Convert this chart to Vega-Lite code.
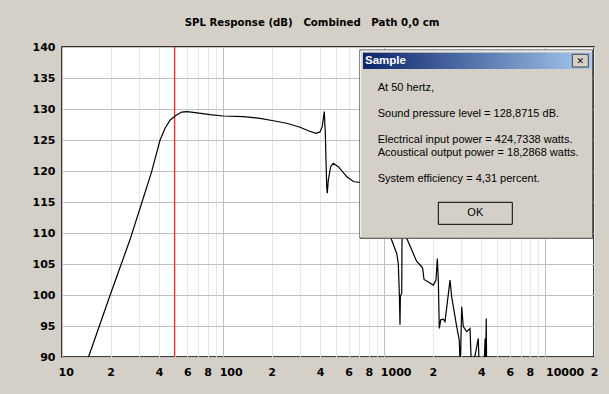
{
  "$schema": "https://vega.github.io/schema/vega-lite/v6.json",
  "autosize": "none",
  "width": 532,
  "height": 310,
  "padding": {"left": 62, "top": 47, "right": 15, "bottom": 37},
  "background": "#D4D0C8",
  "title": {
    "text": "SPL Response (dB)\u00a0\u00a0\u00a0Combined\u00a0\u00a0\u00a0Path 0,0 cm",
    "font": "DejaVu Sans",
    "fontSize": 10.2,
    "fontWeight": "bold",
    "color": "#000000",
    "anchor": "middle",
    "dx": -16,
    "offset": 5,
    "baseline": "alphabetic"
  },
  "config": {
    "view": {"fill": "white", "stroke": "#000000", "strokeWidth": 1.5},
    "axis": {
      "labelFont": "DejaVu Sans",
      "labelFontSize": 11,
      "labelFontWeight": "bold",
      "labelColor": "#000000",
      "ticks": false,
      "domain": false,
      "title": null
    }
  },
  "encoding": {
    "x": {
      "field": "f", "type": "quantitative",
      "scale": {"type": "log", "domain": [10, 20000], "nice": false},
      "axis": {
        "values": [10,20,30,40,50,60,70,80,90,100,200,300,400,500,600,700,800,900,1000,2000,3000,4000,5000,6000,7000,8000,9000,10000,20000],
        "grid": true,
        "gridColor": {"condition": {"test": "indexof([10,100,1000,10000], datum.value) >= 0", "value": "#c0c0c0"}, "value": "#e6e6e6"},
        "gridWidth": 1,
        "labelPadding": 9,
        "labelOverlap": false,
        "labelBound": false,
        "labelFlush": false,
        "labelAlign": {"condition": {"test": "indexof([10,100,1000,10000], datum.value) >= 0", "value": "left"}, "value": "center"},
        "labelOffset": {"condition": {"test": "indexof([10,100,1000], datum.value) >= 0", "value": -4}, "value": 0},
        "labelExpr": "indexof([10,100,1000,10000], datum.value) >= 0 ? format(datum.value, 'd') : (indexof([20,40,60,80,200,400,600,800,2000,4000,6000,8000,20000], datum.value) >= 0 ? format(datum.value / pow(10, floor(log(datum.value)/LN10)), 'd') : '')"
      }
    },
    "y": {
      "field": "db", "type": "quantitative",
      "scale": {"domain": [90, 140], "nice": false, "zero": false},
      "axis": {
        "values": [90,95,100,105,110,115,120,125,130,135,140],
        "grid": true,
        "gridColor": "#c0c0c0",
        "labelPadding": 7
      }
    }
  },
  "layer": [
    {
      "data": {"values": [{"f": 50, "db": 90, "db2": 140}]},
      "mark": {"type": "rule", "color": "#ff0000", "strokeWidth": 1},
      "encoding": {"y2": {"field": "db2"}}
    },
    {
      "data": {"values": [
        {"f": 10, "db": 77.5},
        {"f": 14.7, "db": 90.2},
        {"f": 19.9, "db": 100.0},
        {"f": 26.4, "db": 108.9},
        {"f": 31.2, "db": 114.8},
        {"f": 36.0, "db": 119.9},
        {"f": 40.6, "db": 125.0},
        {"f": 43.6, "db": 126.9},
        {"f": 46.8, "db": 128.2},
        {"f": 50.5, "db": 128.9},
        {"f": 55.3, "db": 129.5},
        {"f": 59.4, "db": 129.57},
        {"f": 65.3, "db": 129.47},
        {"f": 82.8, "db": 129.1},
        {"f": 100, "db": 128.87},
        {"f": 133.4, "db": 128.76},
        {"f": 169.3, "db": 128.5},
        {"f": 204.8, "db": 128.1},
        {"f": 247.7, "db": 127.7},
        {"f": 300, "db": 127.05},
        {"f": 337.6, "db": 126.5},
        {"f": 376.5, "db": 126.08},
        {"f": 399, "db": 126.3},
        {"f": 412, "db": 127.15},
        {"f": 424, "db": 129.6},
        {"f": 430.5, "db": 126.1},
        {"f": 434.6, "db": 121.8},
        {"f": 439, "db": 117.5},
        {"f": 442.6, "db": 116.4},
        {"f": 449, "db": 118.5},
        {"f": 464.6, "db": 120.7},
        {"f": 482, "db": 121.24},
        {"f": 518, "db": 120.7},
        {"f": 584, "db": 119.1},
        {"f": 642, "db": 118.3},
        {"f": 706, "db": 118.15},
        {"f": 800, "db": 117.3},
        {"f": 900, "db": 115.5},
        {"f": 1000, "db": 112.5},
        {"f": 1100, "db": 109.15},
        {"f": 1194, "db": 106.7},
        {"f": 1221, "db": 105.1},
        {"f": 1239, "db": 100.3},
        {"f": 1251, "db": 95.2},
        {"f": 1258, "db": 99.8},
        {"f": 1282, "db": 100.3},
        {"f": 1290, "db": 112},
        {"f": 1330, "db": 111},
        {"f": 1377, "db": 109.15},
        {"f": 1588, "db": 105.4},
        {"f": 1706, "db": 104.56},
        {"f": 1730, "db": 104.3},
        {"f": 1763, "db": 102.5},
        {"f": 1875, "db": 102.1},
        {"f": 2014, "db": 101.6},
        {"f": 2093, "db": 102.4},
        {"f": 2132, "db": 105.9},
        {"f": 2163, "db": 102.4},
        {"f": 2193, "db": 94.6},
        {"f": 2238, "db": 96.0},
        {"f": 2323, "db": 96.1},
        {"f": 2380, "db": 95.7},
        {"f": 2556, "db": 102.4},
        {"f": 2618, "db": 99.7},
        {"f": 2812, "db": 94.9},
        {"f": 2918, "db": 92.7},
        {"f": 2960, "db": 88},
        {"f": 3020, "db": 98.1},
        {"f": 3090, "db": 94.9},
        {"f": 3243, "db": 94.1},
        {"f": 3402, "db": 94.6},
        {"f": 3470, "db": 88.5},
        {"f": 3653, "db": 90.2},
        {"f": 3828, "db": 93.0},
        {"f": 3882, "db": 88},
        {"f": 4150, "db": 88},
        {"f": 4220, "db": 93},
        {"f": 4250, "db": 88},
        {"f": 4290, "db": 96.2},
        {"f": 4320, "db": 86},
        {"f": 6000, "db": 80},
        {"f": 20000, "db": 60}
      ]},
      "mark": {"type": "line", "color": "#000000", "strokeWidth": 1.2, "clip": true, "interpolate": "linear"}
    },
    {
      "data": {"values": [{"f": 706, "f2": 19630, "db": 109.15, "db2": 139.52}]},
      "mark": {"type": "rect", "fill": "#D4D0C8", "stroke": "#404040", "strokeWidth": 1},
      "encoding": {"x2": {"field": "f2"}, "y2": {"field": "db2"}}
    },
    {
      "data": {"values": [{"f": 713, "f2": 19400, "db": 139.36}]},
      "mark": {"type": "rule", "color": "#ffffff", "strokeWidth": 1},
      "encoding": {"x2": {"field": "f2"}}
    },
    {
      "data": {"values": [{"f": 713, "db": 109.35, "db2": 139.36}]},
      "mark": {"type": "rule", "color": "#ffffff", "strokeWidth": 1},
      "encoding": {"y2": {"field": "db2"}}
    },
    {
      "data": {"values": [{"f": 737.5, "f2": 19360, "db": 136.45, "db2": 139.08}]},
      "mark": {
        "type": "rect",
        "fill": {"gradient": "linear", "x1": 0, "y1": 0, "x2": 1, "y2": 0, "stops": [{"offset": 0, "color": "#0A246A"}, {"offset": 1, "color": "#A6CAF0"}]}
      },
      "encoding": {"x2": {"field": "f2"}, "y2": {"field": "db2"}}
    },
    {
      "data": {"values": [{"f": 759, "db": 137.74, "t": "Sample"}]},
      "mark": {"type": "text", "align": "left", "baseline": "middle", "font": "Liberation Sans", "fontSize": 11.5, "fontWeight": "bold", "color": "#ffffff"},
      "encoding": {"text": {"field": "t"}}
    },
    {
      "data": {"values": [{"f": 14670, "f2": 18440, "db": 136.77, "db2": 138.82}]},
      "mark": {"type": "rect", "fill": "#D4D0C8", "stroke": "#404040", "strokeWidth": 1},
      "encoding": {"x2": {"field": "f2"}, "y2": {"field": "db2"}}
    },
    {
      "data": {"values": [{"f": 16440, "db": 137.8, "t": "✕"}]},
      "mark": {"type": "text", "align": "center", "baseline": "middle", "font": "DejaVu Sans", "fontSize": 9, "fontWeight": "bold", "color": "#000000"},
      "encoding": {"text": {"field": "t"}}
    },
    {
      "data": {"values": [
        {"f": 910, "db": 133.34, "t": "At 50 hertz,"},
        {"f": 910, "db": 129.15, "t": "Sound pressure level = 128,8715 dB."},
        {"f": 910, "db": 124.95, "t": "Electrical input power = 424,7338 watts."},
        {"f": 910, "db": 122.9, "t": "Acoustical output power = 18,2868 watts."},
        {"f": 910, "db": 118.66, "t": "System efficiency = 4,31 percent."}
      ]},
      "mark": {"type": "text", "align": "left", "baseline": "middle", "font": "Liberation Sans", "fontSize": 11, "color": "#000000"},
      "encoding": {"text": {"field": "t"}}
    },
    {
      "data": {"values": [{"f": 2163, "f2": 6224, "db": 111.4, "db2": 114.95}]},
      "mark": {"type": "rect", "fill": "#D4D0C8", "stroke": "#000000", "strokeWidth": 1},
      "encoding": {"x2": {"field": "f2"}, "y2": {"field": "db2"}}
    },
    {
      "data": {"values": [{"f": 3669, "db": 113.2, "t": "OK"}]},
      "mark": {"type": "text", "align": "center", "baseline": "middle", "font": "Liberation Sans", "fontSize": 11, "color": "#000000"},
      "encoding": {"text": {"field": "t"}}
    }
  ]
}
